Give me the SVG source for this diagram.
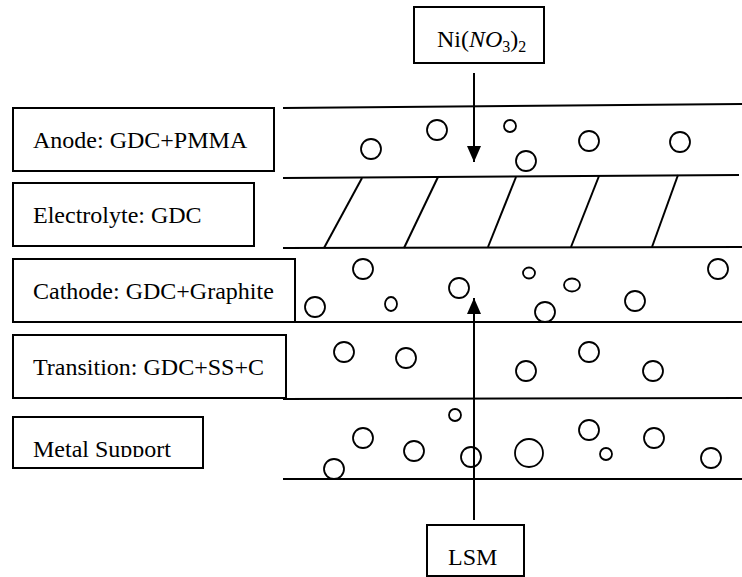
<svg xmlns="http://www.w3.org/2000/svg" width="742" height="577" viewBox="0 0 742 577">
<style>
.box{fill:#fff;stroke:#000;stroke-width:2}
.lbl{font-family:"Liberation Serif","Tinos","Times New Roman","DejaVu Serif",serif;font-size:24px;fill:#000}
.ln{stroke:#000;stroke-width:2;fill:none}
.p{fill:none;stroke:#000;stroke-width:1.8}
</style>
<defs>
<marker id="ah" markerWidth="16" markerHeight="14" refX="16" refY="7" orient="auto" markerUnits="userSpaceOnUse" viewBox="0 0 16 14">
<path d="M0,0 L16,7 L0,14 Z" fill="#000"/>
</marker>
<clipPath id="msclip"><rect x="13" y="417" width="190" height="40"/></clipPath>
</defs>
<rect width="742" height="577" fill="#fff"/>
<g id="layers">
<line class="ln" x1="283" y1="108" x2="742" y2="104"/>
<line class="ln" x1="283" y1="178" x2="739" y2="175"/>
<line class="ln" x1="283" y1="248" x2="742" y2="247"/>
<line class="ln" x1="283" y1="322" x2="742" y2="322"/>
<line class="ln" x1="283" y1="399" x2="742" y2="398"/>
<line class="ln" x1="283" y1="479" x2="742" y2="479"/>
</g>
<g id="hatch">
<line class="ln" x1="362" y1="178" x2="324" y2="248"/>
<line class="ln" x1="438" y1="177" x2="404" y2="248"/>
<line class="ln" x1="516" y1="177" x2="488" y2="247"/>
<line class="ln" x1="599" y1="176" x2="571" y2="247"/>
<line class="ln" x1="678" y1="175" x2="652" y2="247"/>
</g>
<g id="particles">
<circle class="p" cx="371" cy="149" r="10"/>
<circle class="p" cx="437" cy="130" r="10"/>
<circle class="p" cx="510" cy="126" r="6"/>
<circle class="p" cx="526" cy="161" r="10"/>
<circle class="p" cx="589" cy="141" r="10"/>
<circle class="p" cx="680" cy="142" r="10"/>
<circle class="p" cx="363" cy="269" r="10"/>
<circle class="p" cx="315" cy="307" r="10"/>
<ellipse class="p" cx="391" cy="304" rx="6" ry="7"/>
<circle class="p" cx="459" cy="288" r="10"/>
<ellipse class="p" cx="529" cy="273" rx="6" ry="5.5"/>
<ellipse class="p" cx="572" cy="285" rx="8" ry="6.5"/>
<circle class="p" cx="545" cy="312" r="10"/>
<circle class="p" cx="635" cy="301" r="10"/>
<circle class="p" cx="718" cy="269" r="10"/>
<circle class="p" cx="344" cy="352" r="10"/>
<circle class="p" cx="406" cy="358" r="10"/>
<circle class="p" cx="526" cy="371" r="10"/>
<circle class="p" cx="589" cy="352" r="10"/>
<circle class="p" cx="653" cy="371" r="10"/>
<circle class="p" cx="455" cy="415" r="6"/>
<circle class="p" cx="363" cy="438" r="10"/>
<circle class="p" cx="414" cy="451" r="10"/>
<circle class="p" cx="334" cy="469" r="10"/>
<circle class="p" cx="471" cy="457" r="10"/>
<circle class="p" cx="529" cy="453" r="14"/>
<circle class="p" cx="589" cy="430" r="10"/>
<circle class="p" cx="606" cy="454" r="6"/>
<circle class="p" cx="654" cy="438" r="10"/>
<circle class="p" cx="711" cy="458" r="10"/>
</g>
<g id="n-anode"><rect class="box" x="13" y="108" width="261" height="63"/><text class="lbl" x="33" y="148" font-family="Liberation Serif, serif">Anode: GDC+PMMA</text></g>
<g id="n-electrolyte"><rect class="box" x="13" y="183" width="241" height="63"/><text class="lbl" x="33" y="223" font-family="Liberation Serif, serif">Electrolyte: GDC</text></g>
<g id="n-cathode"><rect class="box" x="13" y="259" width="282" height="63"/><text class="lbl" x="33" y="299" font-family="Liberation Serif, serif">Cathode: GDC+Graphite</text></g>
<g id="n-transition"><rect class="box" x="13" y="335" width="273" height="63"/><text class="lbl" x="33" y="375" font-family="Liberation Serif, serif">Transition: GDC+SS+C</text></g>
<g id="n-metal"><rect class="box" x="13" y="417" width="190" height="51"/><text class="lbl" x="33" y="457" font-family="Liberation Serif, serif" clip-path="url(#msclip)">Metal Support</text></g>
<g id="n-ni"><rect class="box" x="414" y="7" width="130" height="56"/><text class="lbl" x="437" y="47" font-family="Liberation Serif, serif">Ni(<tspan font-style="italic">NO</tspan><tspan font-size="16" dy="5">3</tspan><tspan dy="-5">)</tspan><tspan font-size="16" dy="5">2</tspan></text></g>
<g id="n-lsm"><rect class="box" x="427" y="525" width="97" height="51"/><text class="lbl" x="448" y="565" font-family="Liberation Serif, serif">LSM</text></g>
<g id="connectors">
<line class="ln" x1="474" y1="73" x2="474" y2="162" marker-end="url(#ah)"/>
<line class="ln" x1="474" y1="520" x2="474" y2="298" marker-end="url(#ah)"/>
</g>
</svg>
